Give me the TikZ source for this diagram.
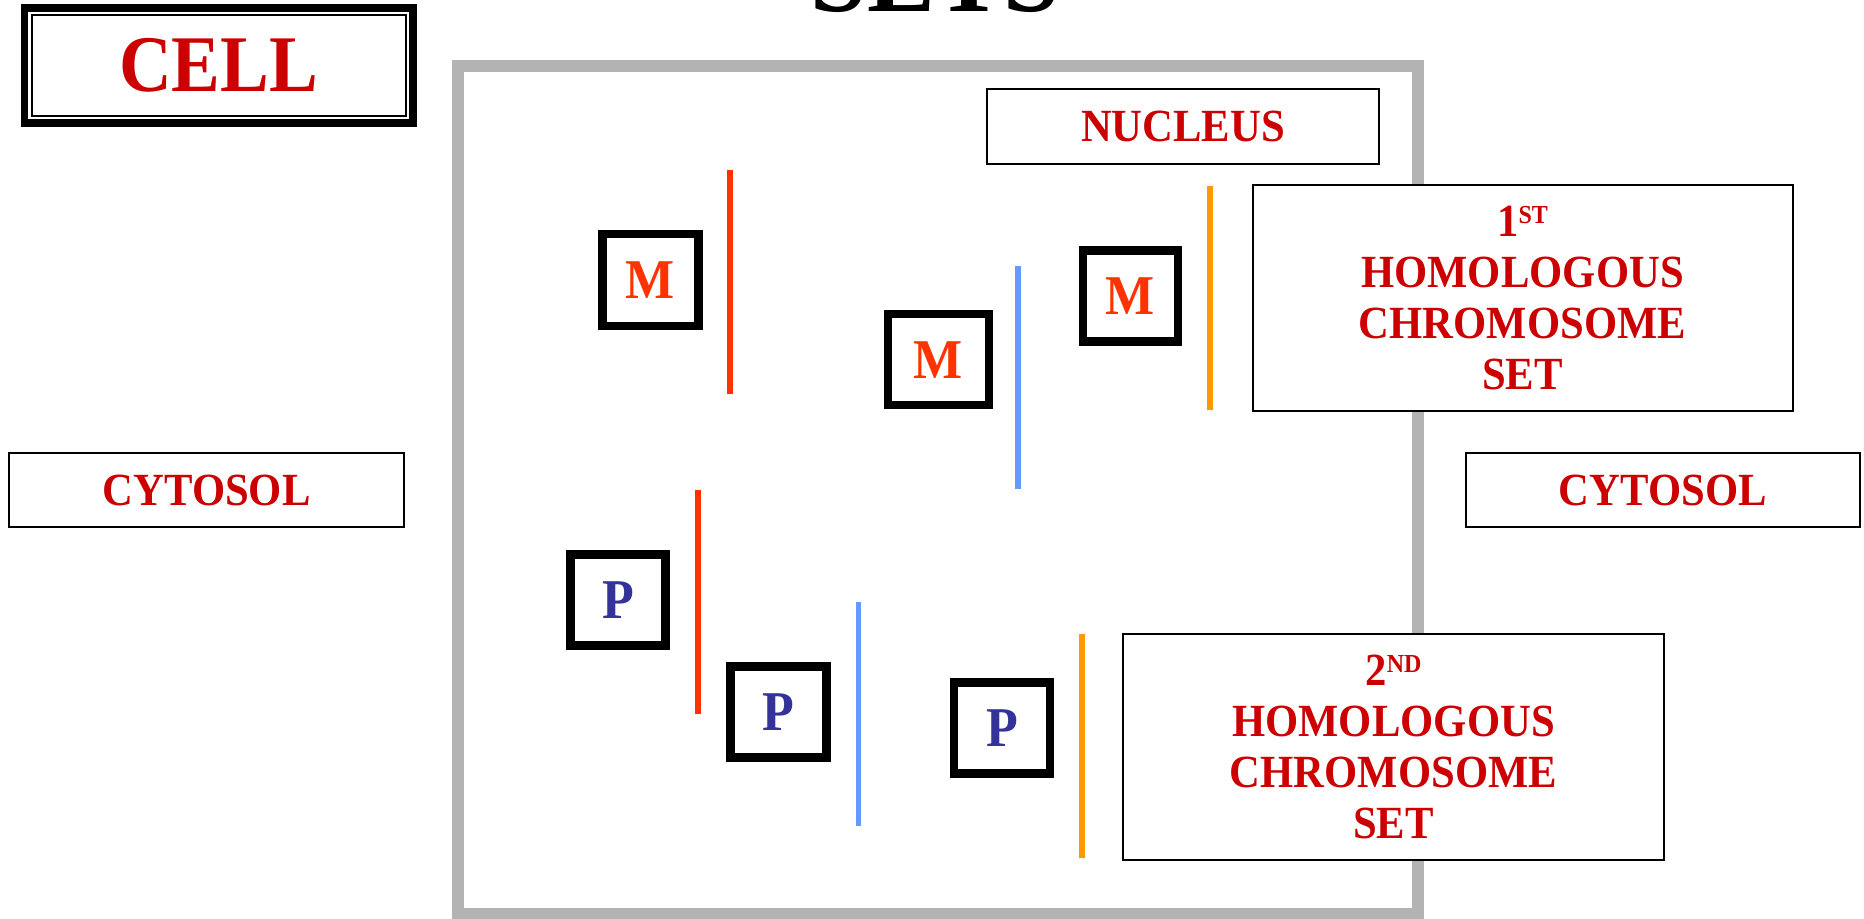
\documentclass[tikz,border=0pt]{standalone}
\usepackage{fontspec}
\setmainfont{Liberation Serif}
\usepackage{graphicx}
\definecolor{lbl}{HTML}{CC0000}
\definecolor{mred}{HTML}{FF3300}
\definecolor{pblue}{HTML}{333399}
\definecolor{cblue}{HTML}{6699FF}
\definecolor{corange}{HTML}{FF9900}
\definecolor{cgray}{HTML}{B3B3B3}
\newcommand{\vs}[1]{\scalebox{1}[1.08]{#1}}
\newcommand{\vsc}[1]{\scalebox{1}[1.1]{#1}}
\newcommand{\supst}[1]{\raisebox{9pt}{\fontsize{18}{20}\selectfont #1}}
\begin{document}
\begin{tikzpicture}[x=0.75pt,y=-0.75pt,
  labelbox/.style={draw=black, line width=1.5pt, fill=white, inner sep=0pt, outer sep=0pt,
    align=center, text=lbl, font=\bfseries\fontsize{32}{38.25}\selectfont},
  genebox/.style={draw=black, line width=6.4pt, fill=white, inner sep=0pt, outer sep=0pt,
    font=\bfseries\fontsize{39}{40}\selectfont},
  mgene/.style={genebox, text=mred},
  pgene/.style={genebox, text=pblue},
  chrom/.style={line width=4.1pt},
  membrane/.style={draw=cgray, line width=9pt}
]
\useasboundingbox (0,0) rectangle (1864,919);

% title (cut off at top)
\node[anchor=base, inner sep=0pt, font=\bfseries\fontsize{76.5}{80}\selectfont] (title) at (935.5,12) {\vs{SETS}};

% cell membrane
\draw[membrane] (458,66) rectangle (1418,914);

% CELL label with double border
\node[draw=black, line width=5.8pt, inner sep=0pt, outer sep=0pt, fill=white,
  minimum width=291.2pt, minimum height=86pt, text=lbl,
  font=\bfseries\fontsize{54.75}{60}\selectfont] (cell) at (218.6,65.5) {\vsc{CELL}};
\draw[line width=1.5pt] ([shift={(7.2,7.2)}]cell.north west) rectangle ([shift={(-7.2,-7.2)}]cell.south east);

% labels
\node[labelbox, minimum width=294pt, minimum height=56pt] (nucleus) at (1183,126.7) {\vs{NUCLEUS}};
\node[labelbox, minimum width=296pt, minimum height=55.5pt] (cytL) at (206.7,490.3) {\vs{CYTOSOL}};
\node[labelbox, minimum width=295.7pt, minimum height=55.5pt] (cytR) at (1662.9,490.3) {\vs{CYTOSOL}};
\node[labelbox, minimum width=405pt, minimum height=169.5pt] (set1) at (1522.5,298)
  {\vs{1\supst{ST}}\\ \vs{HOMOLOGOUS}\\ \vs{CHROMOSOME}\\ \vs{SET}};
\node[labelbox, minimum width=405.75pt, minimum height=169.5pt] (set2) at (1393.5,747)
  {\vs{2\supst{ND}}\\ \vs{HOMOLOGOUS}\\ \vs{CHROMOSOME}\\ \vs{SET}};

% chromosomes
\draw[chrom, mred] (730,170) -- (730,394);
\draw[chrom, cblue] (1018,266) -- (1018,489);
\draw[chrom, corange] (1210,186) -- (1210,410);
\draw[chrom, mred] (698,490) -- (698,714);
\draw[chrom, cblue] (858.3,602) -- (858.3,826);
\draw[chrom, corange] (1082,634) -- (1082,858);

% gene boxes
\node[mgene, minimum width=72pt, minimum height=69pt] (m1) at (650.5,280) {\vs{M}};
\node[mgene, minimum width=75.8pt, minimum height=68.3pt] (m2) at (938.3,359.7) {\vs{M}};
\node[mgene, minimum width=71.3pt, minimum height=68.3pt] (m3) at (1130.3,295.8) {\vs{M}};
\node[pgene, minimum width=71.3pt, minimum height=68.3pt] (p1) at (618,600) {\vs{P}};
\node[pgene, minimum width=72pt, minimum height=68.3pt] (p2) at (778.3,712) {\vs{P}};
\node[pgene, minimum width=72pt, minimum height=68.3pt] (p3) at (1002,727.8) {\vs{P}};
\end{tikzpicture}
\end{document}
